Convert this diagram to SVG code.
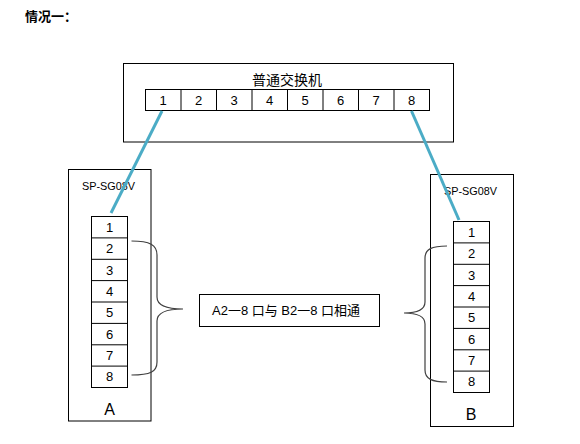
<svg xmlns="http://www.w3.org/2000/svg" width="580" height="444" viewBox="0 0 580 444">
<style>
.box{fill:#fff;stroke:#000;stroke-width:1}
.num{font-family:"Liberation Sans","Noto Sans CJK SC",sans-serif;font-size:13px;fill:#000;text-anchor:middle}
.lbl{font-family:"Liberation Sans","Noto Sans CJK SC",sans-serif;font-size:11.5px;fill:#000}
.cjk{font-family:"Liberation Sans","Noto Sans CJK SC",sans-serif;fill:#000}
.link{stroke:#4BACC6;stroke-width:3;fill:none}
.brace{stroke:#404040;stroke-width:1.2;fill:none}
</style>
<rect width="580" height="444" fill="#fff"/>
<text x="25" y="21" class="cjk" font-size="13" font-weight="bold">情况一：</text>

<g id="switch">
<rect class="box" x="123.5" y="63.5" width="330" height="78.5"/>
<text x="287" y="85" class="cjk" font-size="14" text-anchor="middle">普通交换机</text>
<rect class="box" x="145.5" y="89.5" width="284" height="21"/>
<g stroke="#000" stroke-width="1">
<line x1="181" y1="89.5" x2="181" y2="110.5"/>
<line x1="216.5" y1="89.5" x2="216.5" y2="110.5"/>
<line x1="252" y1="89.5" x2="252" y2="110.5"/>
<line x1="287.5" y1="89.5" x2="287.5" y2="110.5"/>
<line x1="323" y1="89.5" x2="323" y2="110.5"/>
<line x1="358.5" y1="89.5" x2="358.5" y2="110.5"/>
<line x1="394" y1="89.5" x2="394" y2="110.5"/>
</g>
<text class="num" x="163" y="104.5">1</text>
<text class="num" x="198.5" y="104.5">2</text>
<text class="num" x="234" y="104.5">3</text>
<text class="num" x="269.5" y="104.5">4</text>
<text class="num" x="305" y="104.5">5</text>
<text class="num" x="340.5" y="104.5">6</text>
<text class="num" x="376" y="104.5">7</text>
<text class="num" x="411.5" y="104.5">8</text>
</g>

<g id="deviceA">
<rect class="box" x="68.5" y="169.5" width="82.5" height="251.5"/>
<text class="lbl" x="82" y="190" textLength="53" lengthAdjust="spacingAndGlyphs">SP-SG08V</text>
<rect class="box" x="91.5" y="216.5" width="36" height="171"/>
<g stroke="#000" stroke-width="1">
<line x1="91.5" y1="237.9" x2="127.5" y2="237.9"/>
<line x1="91.5" y1="259.3" x2="127.5" y2="259.3"/>
<line x1="91.5" y1="280.6" x2="127.5" y2="280.6"/>
<line x1="91.5" y1="302" x2="127.5" y2="302"/>
<line x1="91.5" y1="323.4" x2="127.5" y2="323.4"/>
<line x1="91.5" y1="344.8" x2="127.5" y2="344.8"/>
<line x1="91.5" y1="366.1" x2="127.5" y2="366.1"/>
</g>
<text class="num" x="109.5" y="231.8">1</text>
<text class="num" x="109.5" y="253.2">2</text>
<text class="num" x="109.5" y="274.6">3</text>
<text class="num" x="109.5" y="295.9">4</text>
<text class="num" x="109.5" y="317.3">5</text>
<text class="num" x="109.5" y="338.7">6</text>
<text class="num" x="109.5" y="360.1">7</text>
<text class="num" x="109.5" y="381.4">8</text>
<text class="cjk" x="109.5" y="415" font-size="16" text-anchor="middle">A</text>
</g>

<g id="deviceB">
<rect class="box" x="430.5" y="174.5" width="83" height="252"/>
<text class="lbl" x="444" y="195" textLength="53" lengthAdjust="spacingAndGlyphs">SP-SG08V</text>
<rect class="box" x="453.5" y="221.5" width="36" height="171"/>
<g stroke="#000" stroke-width="1">
<line x1="453.5" y1="242.9" x2="489.5" y2="242.9"/>
<line x1="453.5" y1="264.3" x2="489.5" y2="264.3"/>
<line x1="453.5" y1="285.6" x2="489.5" y2="285.6"/>
<line x1="453.5" y1="307" x2="489.5" y2="307"/>
<line x1="453.5" y1="328.4" x2="489.5" y2="328.4"/>
<line x1="453.5" y1="349.8" x2="489.5" y2="349.8"/>
<line x1="453.5" y1="371.1" x2="489.5" y2="371.1"/>
</g>
<text class="num" x="471.5" y="236.8">1</text>
<text class="num" x="471.5" y="258.2">2</text>
<text class="num" x="471.5" y="279.6">3</text>
<text class="num" x="471.5" y="300.9">4</text>
<text class="num" x="471.5" y="322.3">5</text>
<text class="num" x="471.5" y="343.7">6</text>
<text class="num" x="471.5" y="365.1">7</text>
<text class="num" x="471.5" y="386.4">8</text>
<text class="cjk" x="471" y="420" font-size="16" text-anchor="middle">B</text>
</g>

<g id="note">
<rect class="box" x="199.5" y="294.5" width="180" height="32"/>
<text class="cjk" x="212" y="315" font-size="13">A2一8 口与 B2一8 口相通</text>
</g>

<g id="connectors">
<line class="link" x1="162" y1="111" x2="111" y2="213"/>
<line class="link" x1="411.5" y1="111" x2="459" y2="220"/>
<path class="brace" d="M131.5,241 C150,241 157,245 157,255 L157,297 C157,305 165,309 183,309 C165,309 157,313 157,321 L157,362 C157,372 150,375 131.5,375"/>
<path class="brace" d="M447,246 C432,246 425,249 425,258 L425,302 C425,309 419,313 404,313 C419,313 425,317 425,324 L425,370 C425,379 432,382 447,382"/>
</g>
</svg>
